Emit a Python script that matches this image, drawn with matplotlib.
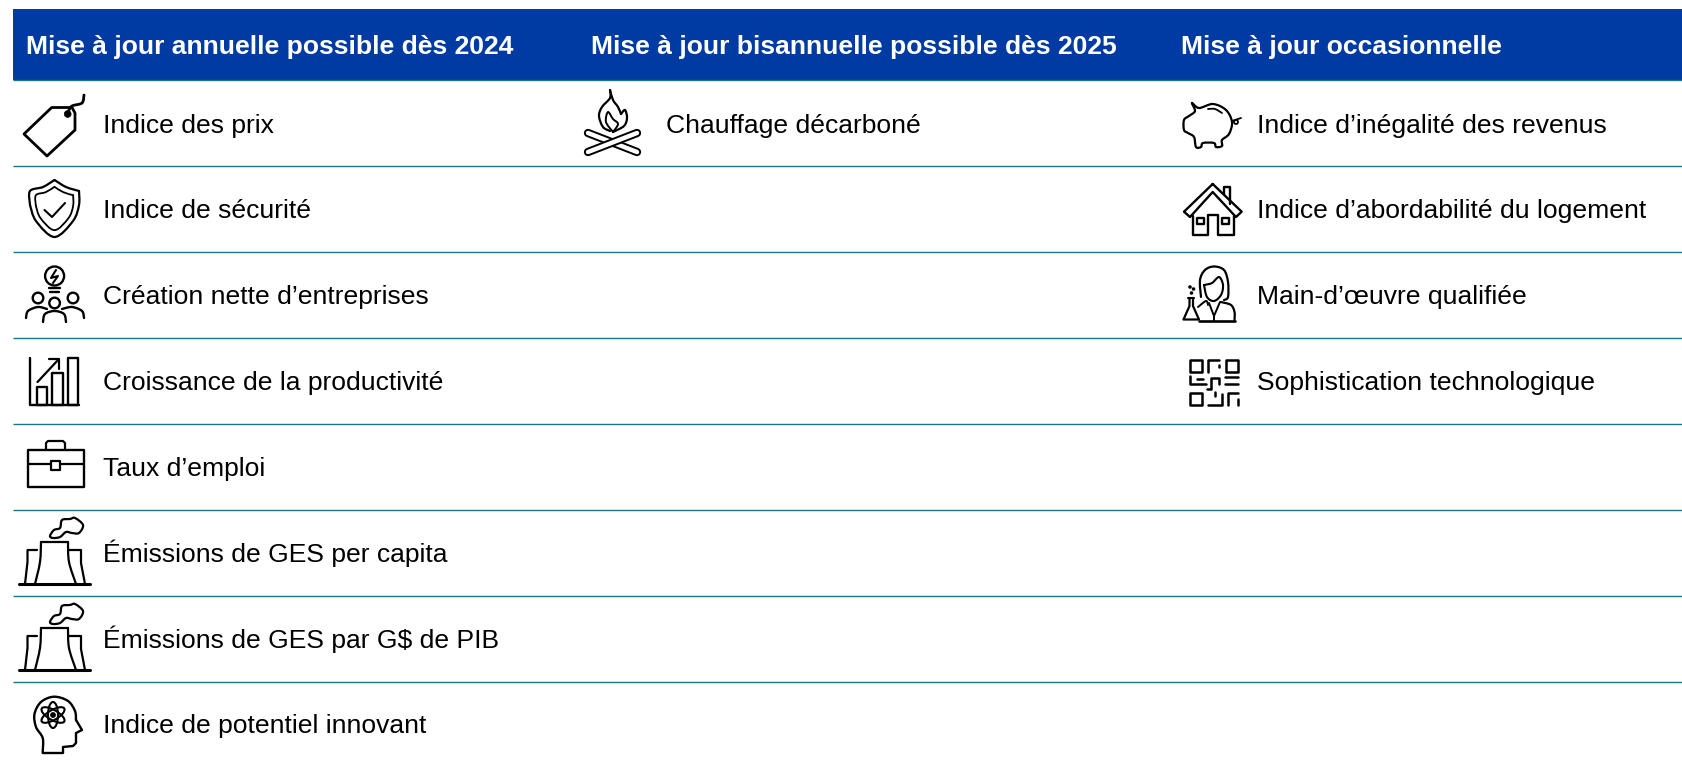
import matplotlib
matplotlib.use('Agg')
import matplotlib.pyplot as plt
from matplotlib.path import Path
from matplotlib.patches import PathPatch, Rectangle, Ellipse, Circle, Polygon

W, H = 1683, 761
HEADERS = ["Mise à jour annuelle possible dès 2024",
           "Mise à jour bisannuelle possible dès 2025",
           "Mise à jour occasionnelle"]
HEADER_X = [26, 591, 1181]
COL1 = ["Indice des prix", "Indice de sécurité", "Création nette d’entreprises",
        "Croissance de la productivité", "Taux d’emploi", "Émissions de GES per capita",
        "Émissions de GES par G$ de PIB", "Indice de potentiel innovant"]
COL2 = ["Chauffage décarboné"]
COL3 = ["Indice d’inégalité des revenus", "Indice d’abordabilité du logement",
        "Main-d’œuvre qualifiée", "Sophistication technologique"]
COL_X = [103, 666, 1257]
RULES_Y = [80, 165.5, 251.5, 337.5, 423.5, 509.5, 595.5, 681.5]
BLUE, TEAL, INK = '#003AA3', '#1D7389', '#000000'

fig = plt.figure(figsize=(W/100, H/100), dpi=100, facecolor='white')
ax = fig.add_axes([0, 0, 1, 1])
ax.set_xlim(0, W); ax.set_ylim(H, 0); ax.axis('off')
plt.rcParams['font.family'] = ['Liberation Sans', 'DejaVu Sans']

ax.add_patch(Rectangle((13, 9), W-13, 71, fc=BLUE, ec='none'))
for y in RULES_Y:
    ax.plot([13, W], [y, y], color=TEAL, lw=1.0, solid_capstyle='butt', zorder=2)
for x, t in zip(HEADER_X, HEADERS):
    ax.text(x, 54.2, t, color='white', fontsize=19.05, fontweight='bold', va='baseline', ha='left')
for x, col in zip(COL_X, [COL1, COL2, COL3]):
    for i, t in enumerate(col):
        ax.text(x, 132.5 + 85.85*i, t, color='black', fontsize=19.05, va='baseline', ha='left')

LW = 1.7

def smooth(pts, closed=False):
    p = list(pts)
    n = len(p)
    verts, codes = [p[0]], [Path.MOVETO]
    segs = n if closed else n-1
    for i in range(segs):
        p0 = p[(i-1) % n] if (closed or i > 0) else p[i]
        p1, p2 = p[i], p[(i+1) % n]
        p3 = p[(i+2) % n] if (closed or i+2 < n) else p2
        c1 = (p1[0]+(p2[0]-p0[0])/6, p1[1]+(p2[1]-p0[1])/6)
        c2 = (p2[0]-(p3[0]-p1[0])/6, p2[1]-(p3[1]-p1[1])/6)
        verts += [c1, c2, p2]
        codes += [Path.CURVE4]*3
    return Path(verts, codes)

def curve(pts, closed=False, lw=LW, fc='none', z=3):
    ax.add_patch(PathPatch(smooth(pts, closed), fc=fc, ec=INK, lw=lw, zorder=z, capstyle='round', joinstyle='round'))

def poly(pts, closed=False, lw=LW, fc='none', z=3):
    if closed:
        ax.add_patch(Polygon(pts, closed=True, fc=fc, ec=INK, lw=lw, zorder=z, joinstyle='round'))
    else:
        ax.plot([p[0] for p in pts], [p[1] for p in pts], color=INK, lw=lw, zorder=z,
                solid_capstyle='round', solid_joinstyle='round')

def circ(x, y, r, lw=LW, fc='none', z=3):
    ax.add_patch(Circle((x, y), r, fc=fc, ec=INK, lw=lw, zorder=z))

def rect(x0, y0, x1, y1, lw=LW):
    poly([(x0, y0), (x1, y0), (x1, y1), (x0, y1)], closed=True, lw=lw)

# price tag
poly([(51.7, 107.5), (72, 107.5), (75, 113), (75, 130), (47, 156), (24, 134)], closed=True, lw=2.0)
circ(67.7, 114, 3.4, fc=INK, lw=0.5)
curve([(68, 112), (72, 106), (82, 103), (84, 95)], lw=2.0)

# shield
def shield(s, lw):
    cx, cy = 54.5, 208.5
    pts = [(54.5, 180), (66, 187), (79, 191), (79, 205), (73, 221), (54.5, 237), (36, 221), (30, 205), (30, 191), (43, 187)]
    q = [(cx+(x-cx)*s, cy+(y-cy)*s) for x, y in pts]
    curve(q[:3], lw=lw); curve(q[2:8], lw=lw); curve(q[7:]+[q[0]], lw=lw)
shield(1, 1.6); shield(0.76, 1.3)
poly([(44.5, 210), (52, 217), (65, 203)], lw=1.5)

# people and bulb
circ(54.6, 276, 9.5, lw=1.7)
poly([(49, 288), (60, 288)], lw=1.7); poly([(50, 292), (59, 292)], lw=1.7)
poly([(56, 270), (51, 278), (58, 276), (53, 283)], lw=1.5)
for hx, hy in [(38, 298), (54.6, 303), (73, 298)]:
    circ(hx, hy, 5.3)
curve([(26, 318), (28, 311), (38, 307), (47, 309)])
curve([(43, 322), (45, 314), (54.6, 311), (64, 314), (66, 322)])
curve([(62, 309), (72, 307), (82, 311), (84, 318)])

# growth chart
poly([(30.5, 358), (30.5, 405), (79, 405)], lw=1.7)
rect(37.5, 387, 47, 405); rect(52, 373, 63.5, 405); rect(68, 358, 78.5, 405)
poly([(37.5, 382), (58, 360)], lw=1.6)
poly([(49, 359), (59, 359), (59, 369)], lw=1.6)

# briefcase
poly([(28, 450), (84, 450), (84, 487), (28, 487)], closed=True, lw=1.7)
poly([(46, 449), (46, 443), (48, 441), (63, 441), (65, 443), (65, 449)], lw=1.6)
poly([(28, 464), (51, 464)], lw=1.6); poly([(60, 464), (84, 464)], lw=1.6)
rect(51, 461, 60, 470, lw=1.6)

# factories
for dy in (0, 86):
    poly([(19, 584.3+dy), (90, 584.3+dy)], lw=2.2)
    curve([(35, 584+dy), (40, 562+dy), (41, 542+dy)], lw=1.6)
    poly([(41, 542+dy), (68, 542+dy)], lw=1.6)
    curve([(68, 542+dy), (69, 562+dy), (76, 584+dy)], lw=1.6)
    poly([(37, 550+dy), (27.5, 550+dy), (27.5, 562+dy), (25, 584+dy)], lw=1.6)
    poly([(68, 550+dy), (81, 550+dy), (81, 563+dy), (85, 584+dy)], lw=1.6)
    curve([(50, 536+dy), (54, 530+dy), (60, 528+dy), (62, 520+dy), (70, 519+dy), (75, 518+dy), (83, 525+dy),
           (79, 533+dy), (72, 533+dy), (66, 532+dy), (60, 537+dy), (53, 538+dy)], closed=True, lw=1.6)

# head and atom
curve([(42.7, 752), (42.7, 738), (36, 727), (34.5, 714), (41, 702), (54, 696.7), (68, 701), (75, 711), (76, 720)], lw=1.7)
poly([(76, 720), (82, 730), (76, 733), (76, 743), (73, 746), (63, 747), (63, 753), (42.7, 753)], lw=1.7)
for a in (0, 60, 120):
    ax.add_patch(Ellipse((53, 715), 26, 10, angle=a+90, fc='none', ec=INK, lw=1.5, zorder=3))
circ(53, 715, 2.5, fc=INK, lw=0.5)

# campfire
curve([(610, 90), (613, 100), (618, 107), (621, 114)], lw=1.6)
curve([(621, 114), (625, 110), (627, 118), (624, 126), (613, 132)], lw=1.6)
curve([(610, 90), (610, 98), (602, 107), (599, 116), (603, 127), (610, 131)], lw=1.6)
curve([(613, 132), (606, 122), (608, 112), (613, 119), (618, 124), (613, 132)], lw=1.4)
for a, b in [((588, 133), (637, 152)), ((588, 152), (637, 133))]:
    xs, ys = [a[0], b[0]], [a[1], b[1]]
    ax.plot(xs, ys, color=INK, lw=6.0, solid_capstyle='round', zorder=3)
    ax.plot(xs, ys, color='white', lw=3.2, solid_capstyle='round', zorder=3)

# piggy bank
curve([(1192, 103), (1199, 108), (1213, 104), (1226, 110), (1232, 122), (1229, 134), (1222, 140), (1222, 146), (1216, 147),
       (1214, 143), (1203, 143), (1201, 147), (1196, 147), (1194, 137), (1188, 133), (1184, 130), (1184, 120), (1189, 116), (1195, 111)], closed=True, lw=1.6)
curve([(1208, 109), (1215, 109), (1222, 113)], lw=1.3)
poly([(1232, 121), (1241, 118)], lw=1.3)
circ(1236, 122, 2, lw=1.3)

# house
poly([(1212.7, 184), (1184, 211.7), (1190, 217), (1212.7, 192), (1236, 217), (1241.7, 211.7), (1212.7, 184)], lw=1.7)
poly([(1224, 194), (1224, 187), (1230.5, 187), (1230.5, 204)], lw=1.7)
poly([(1193, 216), (1193, 235), (1208, 235), (1208, 215), (1218, 215), (1218, 235), (1234, 235), (1234, 216)], lw=1.7)
rect(1197, 217.5, 1204, 223.5); rect(1222, 217.5, 1229, 223.5)

# scientist
curve([(1201, 297), (1200, 280), (1205, 270), (1214, 266.5), (1224, 270), (1228, 282), (1228, 297), (1224, 300)], lw=1.6)
curve([(1204, 285), (1212, 283), (1219, 277), (1223, 285), (1221, 295), (1214, 301), (1207, 297), (1204, 285)], lw=1.5)
curve([(1198, 307), (1206, 301), (1208, 305)], lw=1.4)
curve([(1221, 302), (1231, 305), (1234.5, 312), (1234.5, 320)], lw=1.6)
poly([(1199, 321), (1235, 321)], lw=1.9)
poly([(1209, 303), (1214, 316), (1220, 302)], lw=1.4); poly([(1214, 316), (1214, 321)], lw=1.4)
poly([(1188, 298), (1194, 298)], lw=1.5)
poly([(1189.5, 298), (1189.5, 306), (1183.5, 319.5), (1199, 319.5), (1193, 306), (1193, 298)], lw=1.6)
for bx, by in [(1190, 287), (1193.5, 289), (1191.5, 293)]:
    circ(bx, by, 1.0, lw=1.1, fc=INK)

# QR code
rect(1190, 360, 1202, 372, lw=1.8); rect(1226, 360, 1238, 372, lw=1.8); rect(1190, 393, 1202, 405, lw=1.8)
poly([(1208, 372), (1208, 360), (1219, 360)], lw=1.8)
poly([(1219, 365), (1219, 367)], lw=1.8)
poly([(1190, 376), (1190, 384), (1206, 384)], lw=1.8); poly([(1197, 379), (1203, 379)], lw=1.8)
poly([(1238, 377), (1225, 377)], lw=1.8); poly([(1238, 384), (1225, 384)], lw=1.8)
poly([(1219, 384), (1219, 378), (1211, 378), (1211, 389), (1207, 389)], lw=1.8)
poly([(1208, 405), (1222, 405), (1222, 394)], lw=1.8); poly([(1215, 392), (1215, 396)], lw=1.8)
poly([(1238, 393), (1228, 393), (1228, 405)], lw=1.8); poly([(1238, 399), (1238, 405)], lw=1.8)

fig.savefig('out.png', dpi=100)
